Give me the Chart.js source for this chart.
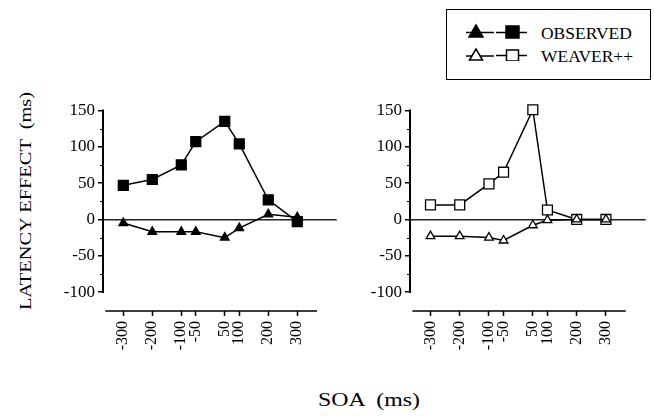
<!DOCTYPE html>
<html>
<head>
<meta charset="utf-8">
<script src="https://cdn.jsdelivr.net/npm/chart.js@4"></script>
<style>
  html, body { margin: 0; padding: 0; background: #fff; }
  body { width: 654px; height: 416px; position: relative; overflow: hidden; font-family: 'Liberation Serif', 'Times New Roman', serif; color: #000; }
  .panel { position: absolute; top: 90px; height: 290px; }
  #left { left: 40px; width: 305px; }
  #right { left: 347px; width: 307px; }
  #legend { position: absolute; left: 446px; top: 9px; width: 205px; height: 71px; box-sizing: border-box; border: 1.5px solid #000; }
  #legend svg { position: absolute; left: 16px; top: 11px; }
  #legend .txt { position: absolute; left: 94px; font-size: 16.5px; line-height: 1; white-space: pre; transform-origin: 0 50%; }
  #ytitle { position: absolute; left: 26px; top: 201px; font-size: 17.5px; line-height: 1; white-space: pre; }
  #xtitle { position: absolute; left: 369px; top: 400px; font-size: 18px; line-height: 1; white-space: pre; }
</style>
</head>
<body>
<div class="panel" id="left"><canvas id="c1"></canvas></div>
<div class="panel" id="right"><canvas id="c2"></canvas></div>

<div id="legend">
  <svg width="70" height="40" viewBox="0 0 70 40">
    <g stroke="#000" stroke-width="1.5">
      <line x1="3" y1="11.5" x2="31" y2="11.5"/>
      <polygon points="13,4 6,16 20,16" fill="#000"/>
      <line x1="33" y1="11.5" x2="64" y2="11.5"/>
      <rect x="43" y="5" width="13" height="12" fill="#000"/>
      <line x1="3" y1="35" x2="31" y2="35"/>
      <polygon points="13,28 6.5,39 19.5,39" fill="#fff"/>
      <line x1="33" y1="34.5" x2="64" y2="34.5"/>
      <rect x="43.5" y="29" width="12" height="11" fill="#fff"/>
    </g>
  </svg>
  <div class="txt" id="lg1" style="top:16px">OBSERVED</div>
  <div class="txt" id="lg2" style="top:39px">WEAVER++</div>
</div>

<div id="ytitle">LATENCY EFFECT  (ms)</div>
<div id="xtitle">SOA  (ms)</div>

<script>
// SOA conditions (ms) and latency effects (ms)
var soa = [-300, -200, -100, -50, 50, 100, 200, 300];
var observedTriangle = [-5, -17, -17, -17, -25, -12, 7, 3];
var observedSquare = [47, 55, 75, 107, 135, 104, 27, -3];
var weaverTriangle = [-23, -23, -25, -29, -8, -1, 0, 0];
var weaverSquare = [20, 20, 49, 65, 151, 13, 0, 0];

var yTicks = [-100, -50, 0, 50, 100, 150];
var xTicks = soa;

var tickFont = { family: "'Liberation Serif', 'Times New Roman', serif", size: 16 };

function points(values) {
    var out = [];
    for (var i = 0; i < soa.length; i++) {
        out.push({ x: soa[i], y: values[i] });
    }
    return out;
}

// the serif lettering is set wide: stretch each label to its run length
function widen(id, length, prefix) {
    var el = document.getElementById(id);
    var s = length / el.offsetWidth;
    el.style.transform = prefix + ' scaleX(' + s + ')';
}
widen('ytitle', 218, 'translate(-50%, -50%) rotate(-90deg)');
widen('xtitle', 102, 'translate(-50%, -50%)');
widen('lg1', 91, '');
widen('lg2', 92, '');

// y axis runs only from -100 to 150, bottom axis line is shorter than the plot
var axisLines = {
    id: 'axisLines',
    beforeDatasetsDraw: function (chart) {
        var ctx = chart.ctx;
        var x = chart.scales.x;
        var y = chart.scales.y;
        var area = chart.chartArea;
        ctx.save();
        ctx.strokeStyle = '#000';
        ctx.lineWidth = 2;
        ctx.beginPath();
        ctx.moveTo(area.left, y.getPixelForValue(150) - 1);
        ctx.lineTo(area.left, y.getPixelForValue(-100) + 1);
        ctx.stroke();

        ctx.lineWidth = 1;
        for (var v = -75; v < 150; v += 50) {
            var py = Math.round(y.getPixelForValue(v)) + 0.5;
            ctx.beginPath();
            ctx.moveTo(area.left - 3, py);
            ctx.lineTo(area.left, py);
            ctx.stroke();
        }

        ctx.lineWidth = 1.5;
        ctx.beginPath();
        ctx.moveTo(x.getPixelForValue(-362), area.bottom);
        ctx.lineTo(x.getPixelForValue(368), area.bottom);
        ctx.stroke();
        ctx.restore();
    }
};

function makeChart(id, triValues, sqValues, filled) {
    var fill = filled ? '#000' : '#fff';
    return new Chart(document.getElementById(id), {
        type: 'line',
        data: {
            datasets: [{
                data: points(triValues),
                borderColor: '#000',
                borderWidth: 1.5,
                pointStyle: 'triangle',
                pointRadius: 5,
                pointBackgroundColor: fill,
                pointBorderColor: '#000',
                pointBorderWidth: 1.3,
                tension: 0
            }, {
                data: points(sqValues),
                borderColor: '#000',
                borderWidth: 1.5,
                pointStyle: 'rect',
                pointRadius: 7,
                pointBackgroundColor: fill,
                pointBorderColor: '#000',
                pointBorderWidth: 1.3,
                tension: 0
            }]
        },
        options: {
            responsive: true,
            maintainAspectRatio: false,
            animation: false,
            clip: false,
            layout: { padding: { top: 7, right: 7, left: 0, bottom: 0 } },
            plugins: { legend: { display: false }, tooltip: { enabled: false } },
            scales: {
                x: {
                    type: 'linear',
                    min: -370,
                    max: 436,
                    afterBuildTicks: function (scale) {
                        scale.ticks = xTicks.map(function (v) { return { value: v }; });
                    },
                    afterFit: function (scale) { scale.height = 69; },
                    border: { display: false },
                    grid: {
                        drawOnChartArea: false,
                        drawTicks: true,
                        tickLength: 5,
                        tickColor: '#000',
                        tickWidth: 1.5
                    },
                    ticks: {
                        autoSkip: false,
                        minRotation: 90,
                        maxRotation: 90,
                        padding: 5,
                        color: '#000',
                        font: tickFont
                    }
                },
                y: {
                    min: -126,
                    max: 160,
                    afterBuildTicks: function (scale) {
                        scale.ticks = yTicks.map(function (v) { return { value: v }; });
                    },
                    afterFit: function (scale) { scale.width = 63; },
                    border: { display: false },
                    grid: {
                        drawOnChartArea: true,
                        color: function (c) { return c.tick && c.tick.value === 0 ? '#222' : 'rgba(0,0,0,0)'; },
                        lineWidth: 1.5,
                        drawTicks: true,
                        tickLength: 5,
                        tickColor: '#000',
                        tickWidth: 1.5
                    },
                    ticks: {
                        padding: 3,
                        color: '#000',
                        font: { family: tickFont.family, size: 17 }
                    }
                }
            }
        },
        plugins: [axisLines]
    });
}

makeChart('c1', observedTriangle, observedSquare, true);
makeChart('c2', weaverTriangle, weaverSquare, false);
</script>
</body>
</html>
